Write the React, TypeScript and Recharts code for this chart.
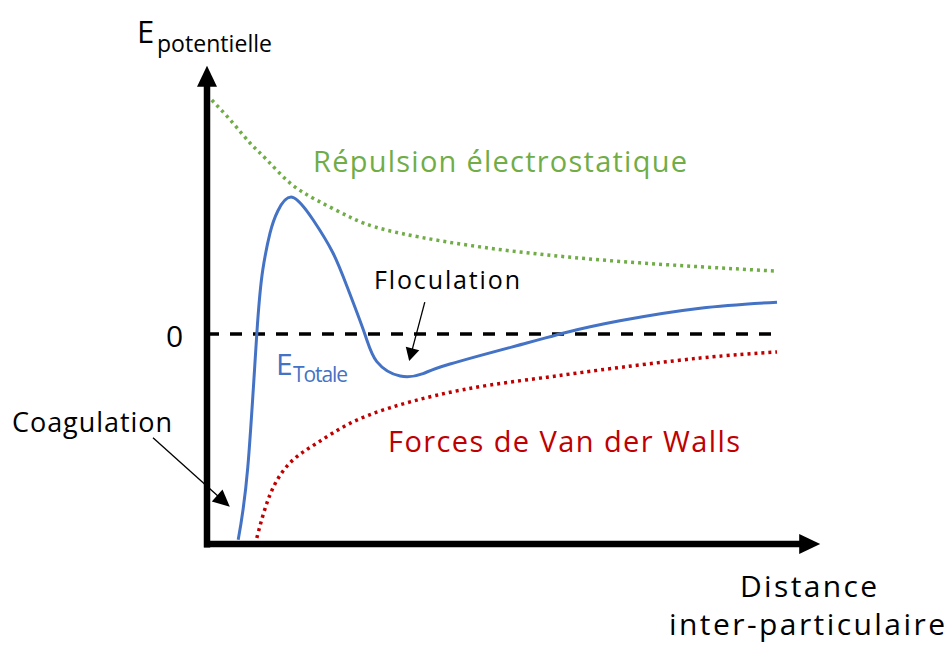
import { LineChart, Line, XAxis, YAxis, ReferenceLine } from "recharts";

// distance (x) and energy (y), arbitrary units
const repulsion = [
  { x: 0.8, y: 39 },
  { x: 4.3, y: 35.2 },
  { x: 7.2, y: 31.8 },
  { x: 10, y: 29 },
  { x: 13.8, y: 25.2 },
  { x: 18.3, y: 22.3 },
  { x: 23.8, y: 19.5 },
  { x: 30, y: 17.3 },
  { x: 42.2, y: 15 },
  { x: 55.5, y: 13.3 },
  { x: 68.8, y: 12.1 },
  { x: 82.2, y: 11.2 },
  { x: 94.7, y: 10.5 },
];

const totale = [
  { x: 5.2, y: -34.3 },
  { x: 6.8, y: -22.2 },
  { x: 8.3, y: 0 },
  { x: 9.3, y: 10.7 },
  { x: 10.5, y: 16.8 },
  { x: 11.8, y: 20.5 },
  { x: 14.2, y: 22.8 },
  { x: 17.7, y: 19 },
  { x: 21, y: 13.5 },
  { x: 23.5, y: 7.5 },
  { x: 26.3, y: 0 },
  { x: 28.3, y: -4.6 },
  { x: 32.2, y: -7 },
  { x: 36, y: -6.6 },
  { x: 40.5, y: -5 },
  { x: 53.3, y: -1.5 },
  { x: 60, y: 0.3 },
  { x: 68.8, y: 2.2 },
  { x: 82.2, y: 4.3 },
  { x: 95, y: 5.3 },
];

const vanDerWaals = [
  { x: 8.3, y: -34 },
  { x: 10.5, y: -26.8 },
  { x: 13.8, y: -21.5 },
  { x: 18.3, y: -18.2 },
  { x: 23.8, y: -14.9 },
  { x: 30.5, y: -12.3 },
  { x: 38.3, y: -10.2 },
  { x: 47.2, y: -8.5 },
  { x: 56.7, y: -7.2 },
  { x: 65.5, y: -6 },
  { x: 82.2, y: -4 },
  { x: 95, y: -3 },
];

const FONT = "'Open Sans', 'Noto Sans', sans-serif";
const GREEN = "#70AD47";
const BLUE = "#4472C4";
const RED = "#C00000";

// line with a filled triangular head at (x2, y2)
const arrow =
  (headLen: number, headHalf: number, width: number) => (p: any) => {
    const { x1, y1, x2, y2 } = p;
    const dx = x2 - x1;
    const dy = y2 - y1;
    const len = Math.hypot(dx, dy) || 1;
    const ux = dx / len;
    const uy = dy / len;
    const bx = x2 - ux * headLen;
    const by = y2 - uy * headLen;
    const pts = [
      `${x2},${y2}`,
      `${bx - uy * headHalf},${by + ux * headHalf}`,
      `${bx + uy * headHalf},${by - ux * headHalf}`,
    ].join(" ");
    return (
      <g>
        <line x1={x1} y1={y1} x2={bx + ux} y2={by + uy} stroke="#000" strokeWidth={width} />
        <polygon points={pts} fill="#000" />
      </g>
    );
  };

export default function App() {
  return (
    <div style={{ position: "absolute", left: 0, top: 0, width: 952, height: 648, background: "#fff" }}>
      <LineChart
        width={952}
        height={648}
        margin={{ top: 34, right: 115, bottom: 74, left: 27 }}
      >
        <XAxis type="number" dataKey="x" domain={[-30, 105]} hide allowDataOverflow />
        <YAxis type="number" dataKey="y" domain={[-40, 50]} hide allowDataOverflow />
        <ReferenceLine
          segment={[{ x: 0, y: 0 }, { x: 95, y: 0 }]}
          stroke="#000"
          strokeWidth={3.5}
          strokeDasharray="12 11"
        />
        <Line
          data={repulsion}
          dataKey="y"
          type="natural"
          stroke={GREEN}
          strokeWidth={3.5}
          strokeDasharray="3 4"
          dot={false}
          isAnimationActive={false}
        />
        <Line
          data={vanDerWaals}
          dataKey="y"
          type="natural"
          stroke={RED}
          strokeWidth={3.5}
          strokeDasharray="3 4"
          dot={false}
          isAnimationActive={false}
        />
        <Line
          data={totale}
          dataKey="y"
          type="natural"
          stroke={BLUE}
          strokeWidth={3}
          dot={false}
          isAnimationActive={false}
        />
        <ReferenceLine
          segment={[{ x: 0, y: -35.6 }, { x: 0, y: 44.7 }]}
          shape={arrow(21, 10, 6.5)}
        />
        <ReferenceLine
          segment={[{ x: -0.5, y: -35 }, { x: 102.2, y: -35 }]}
          shape={arrow(21, 10, 6.5)}
        />
        <ReferenceLine
          segment={[{ x: 36.3, y: 5.3 }, { x: 33.7, y: -4.5 }]}
          shape={arrow(13, 7, 1.3)}
        />
        <ReferenceLine
          segment={[{ x: -9, y: -17.3 }, { x: 3.8, y: -28.8 }]}
          shape={arrow(17, 8, 1.3)}
        />
      </LineChart>
      <svg
        width={952}
        height={648}
        style={{ position: "absolute", left: 0, top: 0, pointerEvents: "none" }}
        fontFamily={FONT}
      >
        <text x={137} y={43} fontSize={31} fill="#000">E</text>
        <text x={157} y={52} fontSize={23} fill="#000" textLength={115} lengthAdjust="spacing">potentielle</text>
        <text x={166} y={347} fontSize={30} fill="#000">0</text>
        <text x={313} y={172} fontSize={29} fill={GREEN} textLength={374} lengthAdjust="spacing">Répulsion électrostatique</text>
        <text x={374} y={289} fontSize={25} fill="#000" textLength={146} lengthAdjust="spacing">Floculation</text>
        <text x={276} y={375} fontSize={30} fill={BLUE}>E</text>
        <text x={293} y={382} fontSize={21} fill={BLUE} textLength={55} lengthAdjust="spacing">Totale</text>
        <text x={12} y={432} fontSize={27} fill="#000" textLength={160} lengthAdjust="spacing">Coagulation</text>
        <text x={388} y={452} fontSize={29} fill={RED} textLength={352} lengthAdjust="spacing">Forces de Van der Walls</text>
        <text x={740} y={597} fontSize={30} fill="#000" textLength={137} lengthAdjust="spacing">Distance</text>
        <text x={669} y={635} fontSize={30} fill="#000" textLength={276} lengthAdjust="spacing">inter-particulaire</text>
      </svg>
    </div>
  );
}
